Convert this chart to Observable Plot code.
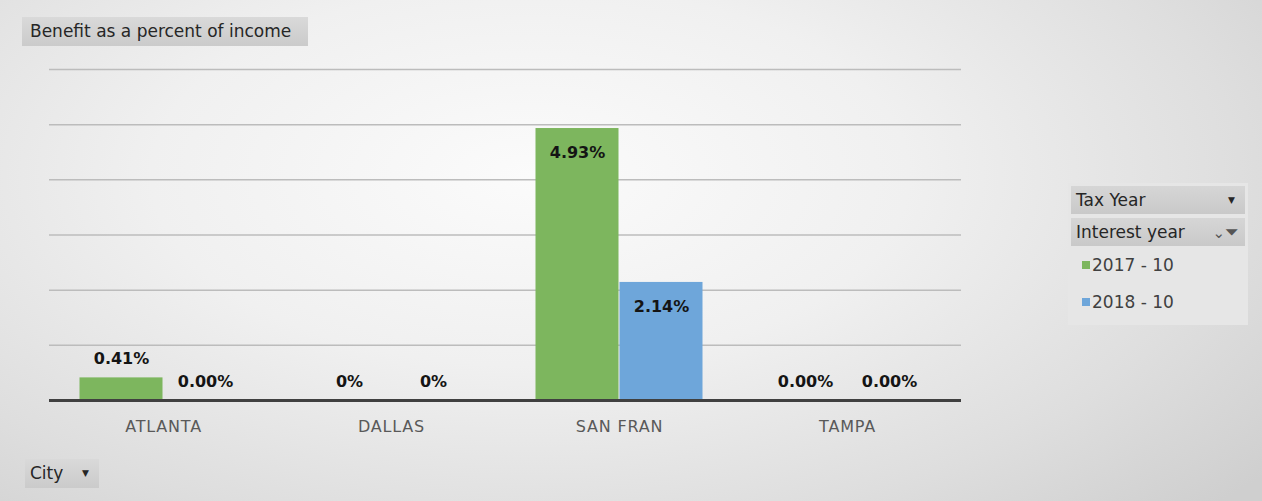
<!DOCTYPE html>
<html>
<head>
<meta charset="utf-8">
<script src="https://cdn.jsdelivr.net/npm/d3@7"></script>
<script src="https://cdn.jsdelivr.net/npm/@observablehq/plot@0.6"></script>
<style>
  html, body { margin: 0; padding: 0; }
  #wrap {
    position: relative; width: 1262px; height: 501px; overflow: hidden;
    background: radial-gradient(ellipse 75% 95% at 42% 35%, #fbfbfb 0%, #f0f0f0 40%, #dedede 75%, #cfcfcf 100%);
    font-family: "DejaVu Sans", sans-serif;
  }
  #chart { position: absolute; left: 0; top: 0; }
  .btn {
    position: absolute; background: linear-gradient(#d9d9d9, #cbcbcb);
    color: #262626; font-size: 17px; line-height: 29px; padding: 0 8px; box-sizing: border-box; white-space: nowrap;
  }
  #title { left: 22px; top: 17px; height: 29px; width: 286px; }
  #city { left: 25px; top: 459px; height: 29px; width: 74px; padding-left: 5px; }
  #city .arr { position: absolute; right: 10px; top: 0; font-size: 9px; }
  #legend {
    position: absolute; left: 1068px; top: 183px; width: 180px; height: 142px;
    background: #e6e6e6;
  }
  #legend .row { position: absolute; left: 3px; width: 174px; height: 28px; line-height: 28px; white-space: nowrap;
    background: linear-gradient(#d6d6d6, #c9c9c9); color: #262626; font-size: 17px; padding-left: 5px; box-sizing: border-box; }
  #legend .item { position: absolute; left: 14px; font-size: 17px; color: #404040; white-space: nowrap; }
  #legend .sw { display: inline-block; width: 8px; height: 8px; margin-right: 2px; vertical-align: 2px; }
</style>
</head>
<body>
<div id="wrap">
  <div id="chart"></div>
  <div id="title" class="btn">Benefit as a percent of income</div>
  <div id="city" class="btn">City <span class="arr">▼</span></div>
  <div id="legend"></div>
</div>
<script>
const cities = ["ATLANTA", "DALLAS", "SAN FRAN", "TAMPA"];
const years = ["2017 - 10", "2018 - 10"];
const values2017 = [0.41, 0, 4.93, 0];
const values2018 = [0, 0, 2.14, 0];
const labels2017 = ["0.41%", "0%", "4.93%", "0.00%"];
const labels2018 = ["0.00%", "0%", "2.14%", "0.00%"];
const gridTicks = [1, 2, 3, 4, 5, 6];
const colors = ["#7db65e", "#6ea6da"];

const data = [];
cities.forEach((c, i) => {
  data.push({city: c, year: years[0], value: values2017[i], label: labels2017[i]});
  data.push({city: c, year: years[1], value: values2018[i], label: labels2018[i]});
});

const chart = Plot.plot({
  width: 1262, height: 501,
  marginLeft: 48, marginRight: 300, marginTop: 69, marginBottom: 101,
  style: {background: "transparent", fontFamily: "'DejaVu Sans', sans-serif", fontSize: "16px", color: "#595959", letterSpacing: "0.8px"},
  fx: {domain: cities, padding: 0, axis: "bottom", label: null, tickSize: 0, tickPadding: 20},
  x: {domain: years, paddingInner: 0, paddingOuter: 0.344, axis: null},
  y: {domain: [0, 6], axis: null},
  color: {domain: years, range: colors},
  marks: [
    Plot.ruleY(gridTicks, {stroke: "#bcbcbc", strokeWidth: 1.5}),
    Plot.barY(data, {fx: "city", x: "year", y: "value", fill: "year", insetLeft: 0.5, insetRight: 0.5}),
    Plot.ruleY([0], {stroke: "#404040", strokeWidth: 3}),
    Plot.text(data.filter(d => d.value > 1), {fx: "city", x: "year", y: "value", text: "label", dy: 24, fontWeight: "bold", fontSize: 16, fill: "#141414", style: "letter-spacing:0"}),
    Plot.text(data.filter(d => d.value <= 1), {fx: "city", x: "year", y: "value", text: "label", dy: -19, fontWeight: "bold", fontSize: 16, fill: "#141414"})
  ]
});
chart.querySelectorAll("text").forEach(t => { if (t.getAttribute("font-weight") === "bold" || t.closest("[font-weight='bold']")) t.style.letterSpacing = "0"; });
document.getElementById("chart").appendChild(chart);

const legend = document.getElementById("legend");
legend.innerHTML = `
  <div class="row" style="top:3px">Tax Year<span style="position:absolute;right:10px;font-size:9px">▼</span></div>
  <div class="row" style="top:35px">Interest year<span style="position:absolute;right:6px;top:0;font-size:15px;color:#555">&#x2304;<span style="font-size:17px">⏷</span></span></div>
` + years.map((y, i) => `<div class="item" style="top:${72 + i * 37}px"><span class="sw" style="background:${colors[i]}"></span>${y}</div>`).join("");
</script>
</body>
</html>
